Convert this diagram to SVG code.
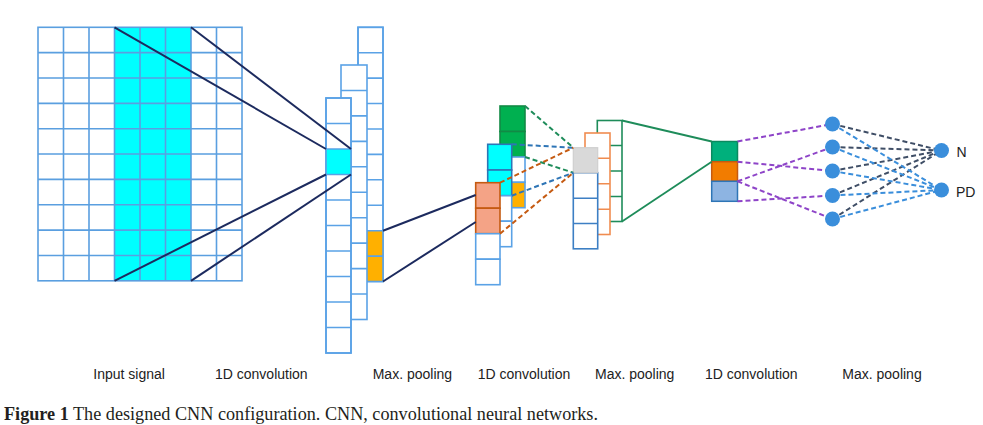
<svg xmlns="http://www.w3.org/2000/svg" width="983" height="425" viewBox="0 0 983 425">
<defs>
<style>
.bg{fill:#ffffff}
.grid{fill:none;stroke:#5A9FE0;stroke-width:1.6}
.cell{fill:#ffffff;stroke:#5AA2E6;stroke-width:1.6}
.cyan{fill:#00FFFF}
.amber{fill:#FFB000}
.green{fill:#00B050;stroke:#128A45;stroke-width:1.6}
.salmon{fill:#F4A386;stroke:#C55A11;stroke-width:1.6}
.cyanb{fill:#00FFFF;stroke:#2E75B6;stroke-width:1.6}
.pb{fill:#ffffff;stroke:#3D7FC4;stroke-width:1.6}
.po{fill:#ffffff;stroke:#F08C50;stroke-width:1.6}
.pg{fill:#ffffff;stroke:#1E8C5A;stroke-width:1.6}
.gray{fill:#D9D9D9;stroke:#CFCFCF;stroke-width:1.2}
.navy{stroke:#1C2A5E;stroke-width:2;fill:none}
.dash{stroke-width:2;stroke-dasharray:5 3;fill:none}
.dg{stroke:#1E8C5A}
.db{stroke:#2E75B6}
.do{stroke:#C55A11}
.dp{stroke:#8E44C8}
.dk{stroke:#3F4E66}
.dl{stroke:#3A8EDB}
.solidg{stroke:#1E8C5A;stroke-width:1.8;fill:none}
.node{fill:#3A8EDB}
.lbl{font-family:"Liberation Sans",Arial,sans-serif;font-size:14px;fill:#222222}
.out{font-family:"Liberation Sans",Arial,sans-serif;font-size:14px;fill:#222222}
.cap{font-family:"Liberation Serif","Times New Roman",serif;font-size:18px;fill:#231F20}
</style>
</defs>
<rect class="bg" x="0" y="0" width="983" height="425"/>

<g id="input-signal">
<rect class="cyan" x="114.5" y="27.3" width="76.5" height="253.5"/>
<rect class="grid" x="38" y="27.3" width="204" height="253.5"/>
<path class="grid" d="M63.5 27.3V280.8M89 27.3V280.8M114.5 27.3V280.8M140 27.3V280.8M165.5 27.3V280.8M191 27.3V280.8M216.5 27.3V280.8M38 52.65H242M38 78H242M38 103.35H242M38 128.7H242M38 154.05H242M38 179.4H242M38 204.75H242M38 230.1H242M38 255.45H242"/>
</g>

<g id="conv1">
<g id="conv1-c">
<rect class="cell" x="358" y="27.3" width="25" height="254.2"/>
<rect class="amber" x="358" y="230.7" width="25" height="50.8"/>
<rect class="cell" x="358" y="27.3" width="25" height="254.2" style="fill:none"/>
<path class="cell" d="M358 52.7H383M358 78.1H383M358 103.5H383M358 129H383M358 154.4H383M358 179.8H383M358 205.3H383M358 230.7H383M358 256.1H383"/>
</g>
<g id="conv1-b">
<rect class="cell" x="341" y="65" width="26" height="254.5"/>
<path class="cell" d="M341 90.45H367M341 115.9H367M341 141.35H367M341 166.8H367M341 192.25H367M341 217.7H367M341 243.15H367M341 268.6H367M341 294.05H367"/>
</g>
<g id="conv1-a">
<rect class="cell" x="326" y="98" width="25" height="255"/>
<rect class="cyan" x="326" y="149" width="25" height="25.5"/>
<rect class="cell" x="326" y="98" width="25" height="255" style="fill:none"/>
<path class="cell" d="M326 123.5H351M326 149H351M326 174.5H351M326 200H351M326 225.5H351M326 251H351M326 276.5H351M326 302H351M326 327.5H351"/>
</g>
</g>

<g id="conv2">
<g id="conv2-f">
<rect class="green" x="500" y="106" width="25" height="25.5"/>
<rect class="green" x="500" y="131.5" width="25" height="25.5"/>
<rect class="cell" x="500" y="157" width="25" height="25.3"/>
<rect class="cell amber" x="500" y="182.3" width="25" height="25.4"/>
</g>
<g id="conv2-e">
<rect class="cyanb" x="487.7" y="144.3" width="24" height="25.7"/>
<rect class="cyanb" x="487.7" y="170" width="24" height="25.7"/>
<rect class="cell" x="487.7" y="195.7" width="24" height="25.5"/>
<rect class="cell" x="487.7" y="221.2" width="24" height="25.5"/>
</g>
<g id="conv2-d">
<rect class="salmon" x="475.7" y="182.7" width="24.3" height="25.5"/>
<rect class="salmon" x="475.7" y="208.2" width="24.3" height="25.5"/>
<rect class="cell" x="475.7" y="233.7" width="24.3" height="25.5"/>
<rect class="cell" x="475.7" y="259.2" width="24.3" height="25.5"/>
</g>
</g>

<g id="pool2">
<g id="pool2-g">
<rect class="pg" x="597.3" y="120.5" width="24.7" height="101"/>
<path class="pg" d="M597.3 145.5H622M597.3 171H622M597.3 196.5H622"/>
</g>
<g id="pool2-o">
<rect class="po" x="585" y="133" width="25" height="101.5"/>
<path class="po" d="M585 158.3H610M585 183.8H610M585 209.3H610"/>
</g>
<g id="pool2-b">
<rect class="pb" x="573.3" y="172.7" width="24.4" height="76.1"/>
<path class="pb" d="M573.3 198.2H597.7M573.3 223.5H597.7"/>
<rect class="gray" x="573.3" y="147.7" width="24.4" height="25"/>
</g>
</g>

<g id="conv3">
<rect x="711.7" y="141.5" width="25.8" height="20.2" style="fill:#00B07C;stroke:#0A8A5F;stroke-width:1.5"/>
<rect x="711.7" y="161.7" width="25.8" height="19.6" style="fill:#F27C00;stroke:#C55A11;stroke-width:1.5"/>
<rect x="711.7" y="181.3" width="25.8" height="20" style="fill:#8DB4E2;stroke:#2E75B6;stroke-width:1.5"/>
</g>

<g id="connectors">
<line class="navy" x1="114.5" y1="27.3" x2="326" y2="149"/>
<line class="navy" x1="191" y1="27.3" x2="351" y2="149"/>
<line class="navy" x1="114.5" y1="280.8" x2="326" y2="174.5"/>
<line class="navy" x1="191" y1="280.8" x2="351" y2="174.5"/>
<line class="navy" x1="383" y1="230.7" x2="475.7" y2="195"/>
<line class="navy" x1="383" y1="281.5" x2="475.7" y2="222"/>
<line class="dash dg" x1="525" y1="106" x2="573.3" y2="147.7"/>
<line class="dash dg" x1="525" y1="157" x2="573.3" y2="172.7"/>
<line class="dash db" x1="511.7" y1="144.3" x2="573.3" y2="147.7"/>
<line class="dash db" x1="511.7" y1="195.7" x2="573.3" y2="172.7"/>
<line class="dash do" x1="500" y1="182.7" x2="573.3" y2="147.7"/>
<line class="dash do" x1="500" y1="233.7" x2="573.3" y2="172.7"/>
<line class="solidg" x1="622" y1="120.5" x2="711.7" y2="141.5"/>
<line class="solidg" x1="622" y1="221.5" x2="711.7" y2="161.7"/>
<line class="dash dp" x1="737.5" y1="141.5" x2="832.5" y2="124"/>
<line class="dash dp" x1="737.5" y1="161.7" x2="832.5" y2="171"/>
<line class="dash dp" x1="737.5" y1="181.3" x2="832.5" y2="147"/>
<line class="dash dp" x1="737.5" y1="181.3" x2="832.5" y2="219"/>
<line class="dash dp" x1="737.5" y1="201.3" x2="832.5" y2="195.5"/>
<line class="dash dk" x1="832.5" y1="124" x2="941.5" y2="150.5"/>
<line class="dash dk" x1="832.5" y1="147" x2="941.5" y2="150.5"/>
<line class="dash dk" x1="832.5" y1="171" x2="941.5" y2="150.5"/>
<line class="dash dk" x1="832.5" y1="195.5" x2="941.5" y2="150.5"/>
<line class="dash dk" x1="832.5" y1="219" x2="941.5" y2="150.5"/>
<line class="dash dl" x1="832.5" y1="124" x2="941.5" y2="190"/>
<line class="dash dl" x1="832.5" y1="147" x2="941.5" y2="190"/>
<line class="dash dl" x1="832.5" y1="171" x2="941.5" y2="190"/>
<line class="dash dl" x1="832.5" y1="195.5" x2="941.5" y2="190"/>
<line class="dash dl" x1="832.5" y1="219" x2="941.5" y2="190"/>
</g>

<g id="pool3">
<circle class="node" cx="832.5" cy="124" r="7.5"/>
<circle class="node" cx="832.5" cy="147" r="7.5"/>
<circle class="node" cx="832.5" cy="171" r="7.5"/>
<circle class="node" cx="832.5" cy="195.5" r="7.5"/>
<circle class="node" cx="832.5" cy="219" r="7.5"/>
</g>
<g id="out-n">
<circle class="node" cx="941.5" cy="150.5" r="7.5"/>
<text class="out" x="956.5" y="157">N</text>
</g>
<g id="out-pd">
<circle class="node" cx="941.5" cy="190" r="7.5"/>
<text class="out" x="956" y="197">PD</text>
</g>

<g id="labels">
<text class="lbl" x="93.3" y="379">Input signal</text>
<text class="lbl" x="215" y="379">1D convolution</text>
<text class="lbl" x="372.7" y="379">Max. pooling</text>
<text class="lbl" x="477.7" y="379">1D convolution</text>
<text class="lbl" x="595" y="379">Max. pooling</text>
<text class="lbl" x="705" y="379">1D convolution</text>
<text class="lbl" x="842.3" y="379">Max. pooling</text>
</g>
<text class="cap" x="4" y="420" textLength="594" lengthAdjust="spacingAndGlyphs"><tspan font-weight="bold">Figure 1</tspan> The designed CNN configuration. CNN, convolutional neural networks.</text>
</svg>
